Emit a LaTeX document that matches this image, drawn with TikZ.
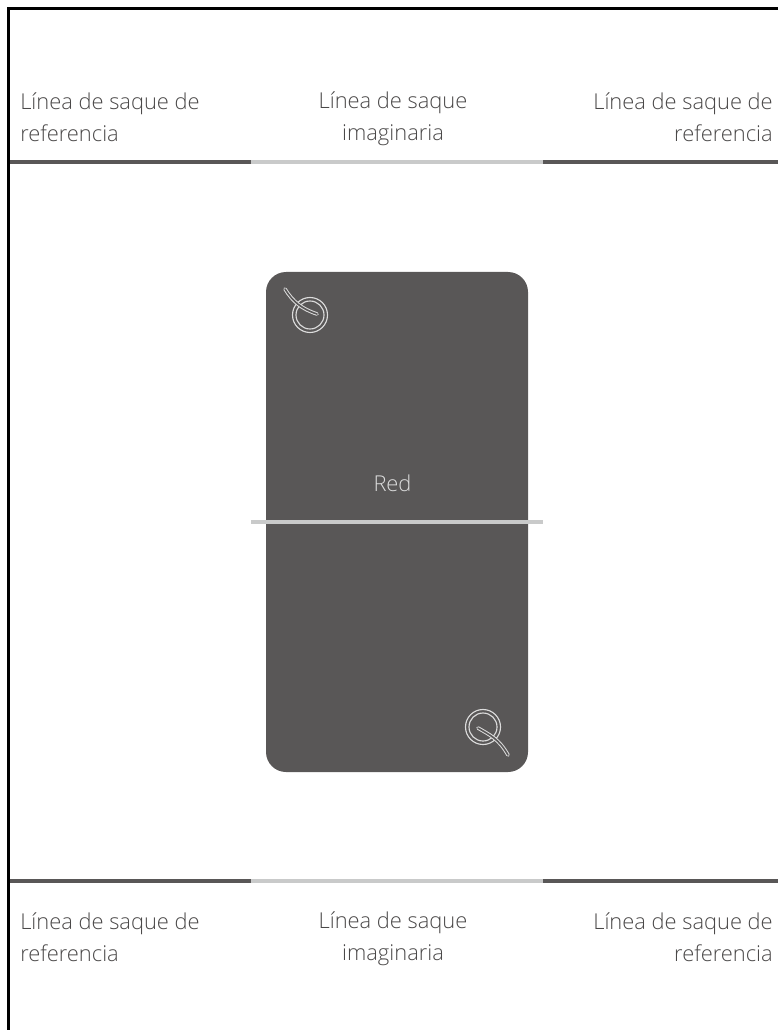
\documentclass[tikz,border=0pt]{standalone}
\usepackage{fontspec}
\setmainfont{Open Sans Light}
\definecolor{darkbar}{HTML}{595757}
\definecolor{lightbar}{HTML}{C9CACA}
\definecolor{labeltext}{HTML}{4A4848}
\definecolor{iconline}{HTML}{DCDCDC}
\tikzset{
  x=0.75pt,y=-0.75pt,
  lbl/.style={inner sep=0pt,text=labeltext,font=\fontsize{16.4}{24}\selectfont},
  barD/.style={fill=darkbar,draw=none},
  barL/.style={fill=lightbar,draw=none},
  ring/.style={draw=iconline,line width=0.85pt},
  wire/.style={draw=iconline,line width=2.7pt,line cap=round},
  wirein/.style={draw=darkbar,line width=1.2pt,line cap=round},
}
\begin{document}
\begin{tikzpicture}
\useasboundingbox (0,0) rectangle (778,1030);
\draw[black,line width=2pt] (8.7,1030) -- (8.7,8.7) -- (778,8.7);
\fill[barD] (10,160) rectangle (251,164);
\fill[barL] (251,160) rectangle (543,164);
\fill[barD] (543,160) rectangle (778,164);
\fill[barD] (10,879) rectangle (251,883);
\fill[barL] (251,879) rectangle (543,883);
\fill[barD] (543,879) rectangle (778,883);
\node[lbl,anchor=west,align=left] (tl) at (20,117) {Línea de saque de\\referencia};
\node[lbl,align=center] (tc) at (393,119) {Línea de saque\\imaginaria};
\node[lbl,anchor=east,align=right] (tr) at (773,117) {Línea de saque de\\referencia};
\node[lbl,anchor=west,align=left] (bl) at (20,937) {Línea de saque de\\referencia};
\node[lbl,align=center] (bc) at (393,939) {Línea de saque\\imaginaria};
\node[lbl,anchor=east,align=right] (br) at (773,937) {Línea de saque de\\referencia};
\fill[darkbar,rounded corners=15pt] (266,272) rectangle (528,772);
\fill[barL] (251,520) rectangle (543,524);
\node[lbl,text=iconline] (red) at (392.5,483) {Red};
% top icon
\draw[ring] (310,315) circle (17.5);
\draw[ring] (310,315) circle (14);
\draw[wire] (285,289) .. controls (293,302) and (302,309) .. (317,314);
\draw[wirein] (285,289) .. controls (293,302) and (302,309) .. (317,314);
% bottom icon
\draw[ring] (483,727) circle (17.5);
\draw[ring] (483,727) circle (14);
\draw[wire] (478,728) .. controls (490,735) and (499,739) .. (508,755);
\draw[wirein] (478,728) .. controls (490,735) and (499,739) .. (508,755);
\end{tikzpicture}
\end{document}
